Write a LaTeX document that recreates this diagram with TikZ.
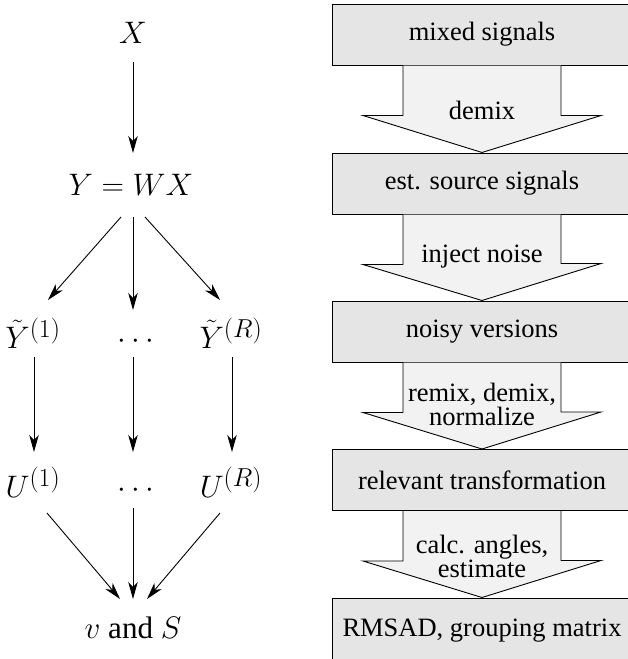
\documentclass[tikz,border=0pt]{standalone}
\usepackage[no-math]{fontspec}
\setmainfont{Liberation Serif}
\usetikzlibrary{arrows.meta,calc}
\definecolor{boxfill}{HTML}{E5E5E5}
\definecolor{arrfill}{HTML}{F2F2F2}
\begin{document}
\begin{tikzpicture}[x=1pt,y=-1pt,
  lnode/.style={inner sep=0pt,font=\fontsize{24.88}{30}\selectfont,scale=1.25,transform shape},
  arr/.style={line width=0.9pt,-{Stealth[length=17pt,width=9.5pt,inset=5pt]}},
  stage/.style={draw,line width=1pt,fill=boxfill,minimum width=300pt,minimum height=61pt,inner sep=0pt,font=\fontsize{26.5}{24}\selectfont},
  blk/.style={draw,line width=0.9pt,fill=arrfill,line join=miter},
  blabel/.style={inner sep=0pt,align=center,font=\fontsize{26.5}{24}\selectfont}]
\useasboundingbox (0,0) rectangle (628,659);
% left column
\node[lnode] (X) at (133,33) {$X$};
\node[lnode] (Y) at (131,185) {$Y=WX$};
\node[lnode] (Y1) at (33,333) {$\tilde Y^{(1)}$};
\node[lnode] (Yd) at (133,333) {$\vphantom{\tilde Y^{(1)}}\cdots$};
\node[lnode] (YR) at (231,333) {$\tilde Y^{(R)}$};
\node[lnode] (U1) at (33,482) {$U^{(1)}$};
\node[lnode] (Ud) at (133,482) {$\vphantom{U^{(1)}}\cdots$};
\node[lnode] (UR) at (231,482) {$U^{(R)}$};
\node[lnode] (vS) at (133,628) {$v$ and $S$};
\draw[arr] ($(X)+(0,29)$) -- ($(Y)+(2,-32)$);
\draw[arr] ($(Y)+(-10,32)$) -- ($(Y1)+(15,-33)$);
\draw[arr] ($(Y)+(2,32)$) -- ($(Yd)+(0,-23)$);
\draw[arr] ($(Y)+(14,32)$) -- ($(YR)+(-11,-33)$);
\draw[arr] ($(Y1)+(1,24)$) -- ($(U1)+(1,-30)$);
\draw[arr] ($(Yd)+(0,24)$) -- ($(Ud)+(0,-30)$);
\draw[arr] ($(YR)+(1,24)$) -- ($(UR)+(1,-30)$);
\draw[arr] ($(U1)+(14,31)$) -- ($(vS)+(-13,-29)$);
\draw[arr] ($(Ud)+(0,26)$) -- ($(vS)+(0,-29)$);
\draw[arr] ($(UR)+(-11,31)$) -- ($(vS)+(14,-29)$);
% right column
\begin{scope}
\clip (0,0) rectangle (628,659);
\node[stage] (b1) at (482,34.5) {mixed signals};
\node[stage] (b2) at (482,183.5) {est. source signals};
\node[stage] (b3) at (482,331.5) {noisy versions};
\node[stage] (b4) at (482,480) {relevant transformation};
\node[stage,minimum height=66pt] (b5) at (482,631) {\raisebox{3pt}{RMSAD, grouping matrix}};
\foreach \a/\b in {b1/b2,b2/b3,b3/b4,b4/b5}{
  \filldraw[blk] ($(\a.south)+(-79,0)$) -- ++(0,50) -- ++(-40,0) -- (\b.north) -- ++(119,-37) -- ++(-40,0) -- ($(\a.south)+(79,0)$);
}
\end{scope}
\node[blabel] (l1) at (482,110) {demix};
\node[blabel] (l2) at (482,257) {inject noise};
\node[blabel] (l3) at (482,404) {remix, demix,\\normalize};
\node[blabel] (l4) at (482,556) {calc. angles,\\estimate};
\end{tikzpicture}
\end{document}
